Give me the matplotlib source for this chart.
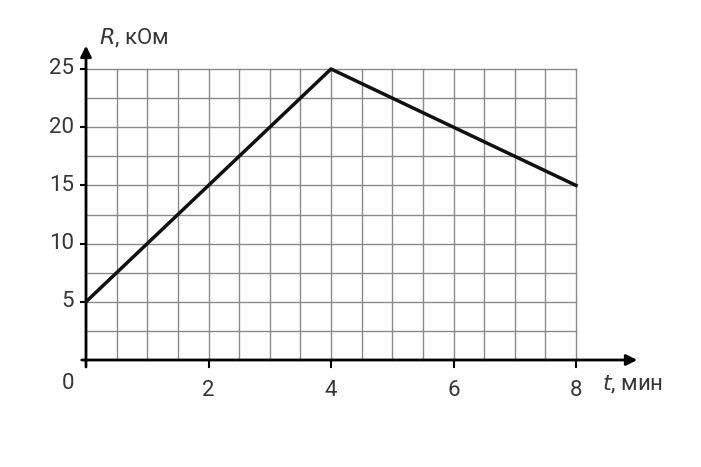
import matplotlib
matplotlib.use('Agg')
import matplotlib.pyplot as plt
import numpy as np

# данные графика
t_min = [0, 4, 8]
r_kom = [5, 25, 15]
x_ticks = [2, 4, 6, 8]
y_ticks = [5, 10, 15, 20, 25]

plt.rcParams['font.family'] = ['Roboto', 'DejaVu Sans']

fig = plt.figure(figsize=(7.01, 4.67), dpi=100)
W, H = 701, 467
# пиксельная привязка осей
x0px, ux = 86, 61.25
y0px, uy = 360, 11.64
xmin, xmax = -0.1, 9.0
ymin, ymax = -0.8, 27.0
left = (x0px + xmin * ux) / W
right = (x0px + xmax * ux) / W
bottom = (H - (y0px - ymin * uy)) / H
top = (H - (y0px - ymax * uy)) / H
ax = fig.add_axes([left, bottom, right - left, top - bottom])
ax.set_xlim(xmin, xmax)
ax.set_ylim(ymin, ymax)
ax.axis('off')

txt = '#363636'
fs = 16

# сетка
for gx in np.arange(0.5, 8.01, 0.5):
    ax.plot([gx, gx], [0, 25], color='#8a8a8a', lw=1.0, zorder=1)
for gy in np.arange(2.5, 25.01, 2.5):
    ax.plot([0, 8], [gy, gy], color='#8a8a8a', lw=1.0, zorder=1)

# оси со стрелками
ax.annotate('', xy=(9.0, 0), xytext=(-0.07, 0),
            arrowprops=dict(arrowstyle='-|>', color='black', lw=2,
                            mutation_scale=16, shrinkA=0, shrinkB=0), zorder=3)
ax.annotate('', xy=(0, 27.0), xytext=(0, -0.6),
            arrowprops=dict(arrowstyle='-|>', color='black', lw=2,
                            mutation_scale=16, shrinkA=0, shrinkB=0), zorder=3)

# засечки и подписи
for v in y_ticks:
    ax.plot([-0.11, 0], [v, v], color='black', lw=1.5, zorder=3)
    ax.text(-0.2, v, str(v), ha='right', va='center', fontsize=fs, color=txt)
for v in x_ticks:
    ax.plot([v, v], [0, -0.6], color='black', lw=1.5, zorder=3)
    ax.text(v, -2.6, str(v), ha='center', va='center', fontsize=fs, color=txt)
ax.text(-0.29, -2.0, '0', ha='center', va='center', fontsize=fs, color=txt)

ax.text(0.22, 27.6, r'$\it{R}$, кОм', ha='left', va='center', fontsize=fs, color=txt)
ax.text(8.43, -2.1, r'$\it{t}$, мин', ha='left', va='center', fontsize=fs, color=txt)

# линия графика
ax.plot(t_min, r_kom, color='#111111', lw=2.5, zorder=4, clip_on=False)

fig.savefig('out.png', dpi=100)
